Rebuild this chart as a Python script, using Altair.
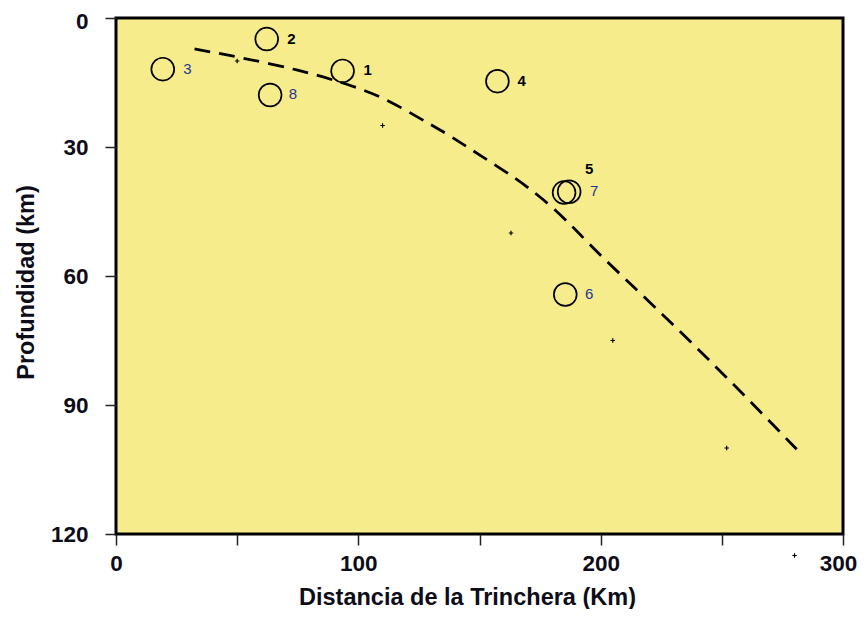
import altair as alt
import pandas as pd

# Earthquake hypocentres (circles)
ev_id = ["1", "2", "3", "4", "5", "6", "7", "8"]
ev_x = [93.5, 62.2, 19.3, 157.4, 187.0, 185.4, 184.9, 63.6]
ev_y = [12.3, 4.9, 11.9, 14.7, 40.4, 64.3, 40.6, 17.9]

# Label anchor positions (data units) and style group
lab_x = [103.9, 72.4, 29.5, 167.4, 195.3, 195.3, 197.3, 73.0]
lab_y = [12.2, 4.9, 11.9, 14.7, 35.0, 64.2, 40.3, 17.6]
lab_grp = ["a", "a", "b", "a", "a", "b", "b", "b"]

# Small cross markers
cr_x = [50, 110, 163, 205, 252, 280]
cr_y = [10, 25, 50, 75, 100, 125]

# Dashed slab line
ln_x = [32.4, 50.9, 75.7, 93.5, 110.0, 125.2, 136.2, 145.8, 155.4, 165.0, 173.3,
        181.5, 189.8, 199.4, 220.0, 240.6, 261.2, 281.9]
ln_y = [7.2, 9.1, 12.1, 15.0, 18.3, 23.3, 26.8, 30.3, 33.8, 37.3, 40.8,
        44.7, 49.3, 55.0, 65.9, 77.2, 88.8, 100.9]

x_ticks = [0, 50, 100, 150, 200, 250, 300]
y_ticks = [0, 30, 60, 90, 120]

df_ev = pd.DataFrame({"x": ev_x, "y": ev_y, "id": ev_id})
df_lab = pd.DataFrame({"x": lab_x, "y": lab_y, "id": ev_id, "g": lab_grp})
df_cr = pd.DataFrame({"x": cr_x, "y": cr_y})
df_ln = pd.DataFrame({"x": ln_x, "y": ln_y, "o": list(range(len(ln_x)))})

FONT = "Liberation Sans"
TXT = "#0d0d1a"

x_axis = alt.Axis(
    values=x_ticks, labelExpr="datum.value % 100 == 0 ? datum.label : ''",
    title="Distancia de la Trinchera (Km)", grid=False, domain=False,
    tickSize=11, tickWidth=1.5, tickColor="#222", labelPadding=7,
    labelFlush=False,
    labelOffset={"condition": {"test": "datum.value == 300", "value": -5}, "value": 0},
    labelFont=FONT, labelFontSize=22.5, labelFontWeight="bold", labelColor=TXT,
    titleFont=FONT, titleFontSize=23.5, titleFontWeight="bold", titleColor=TXT,
    titleX=351, titleY=70, titleBaseline="alphabetic", titleAlign="center",
)
y_axis = alt.Axis(
    values=y_ticks, title="Profundidad (km)", grid=False, domain=False,
    tickSize=11, tickWidth=1.5, tickColor="#222", labelPadding=17,
    labelFlush=False,
    labelOffset={"condition": {"test": "datum.value == 0", "value": 3}, "value": 0},
    labelFont=FONT, labelFontSize=22.5, labelFontWeight="bold", labelColor=TXT,
    titleFont=FONT, titleFontSize=23.5, titleFontWeight="bold", titleColor=TXT,
    titleX=-83, titleY=264, titleBaseline="alphabetic", titleAlign="center", titleAngle=-90,
)

xs = alt.Scale(domain=[0, 300], nice=False, zero=False)
ys = alt.Scale(domain=[0, 120], nice=False, zero=False, reverse=True)


def X():
    return alt.X("x:Q", scale=xs, axis=x_axis)


def Y():
    return alt.Y("y:Q", scale=ys, axis=y_axis)


line = alt.Chart(df_ln).mark_line(
    color="black", strokeWidth=2.8, strokeDash=[16, 9], interpolate="basis"
).encode(x=X(), y=Y(), order="o:Q")

crosses = alt.Chart(df_cr).mark_point(
    shape="M -1 0 L 1 0 M 0 -1 L 0 1", size=20, color="black", strokeWidth=1.2,
    filled=False, opacity=1, clip=False
).encode(x=X(), y=Y())

circles = alt.Chart(df_ev).mark_point(
    shape="circle", size=520, filled=False, color="black", strokeWidth=1.7, opacity=1
).encode(x=X(), y=Y())

labels_a = alt.Chart(df_lab).transform_filter(alt.datum.g == "a").mark_text(
    font=FONT, fontSize=15, fontWeight="bold", color="black", align="center", baseline="middle"
).encode(x=X(), y=Y(), text="id:N")

labels_b = alt.Chart(df_lab).transform_filter(alt.datum.g == "b").mark_text(
    font=FONT, fontSize=15, fontWeight="normal", color="#24349a", align="center", baseline="middle"
).encode(x=X(), y=Y(), text="id:N")

chart = alt.layer(line, crosses, circles, labels_a, labels_b).properties(
    width=727, height=516, autosize="none",
    padding={"left": 108, "top": 10, "right": 14, "bottom": 75},
    background="white",
).configure_view(
    fill="#F6EC8C", stroke="black", strokeWidth=3
)

chart.save("out.html", embed_options={"renderer": "svg", "actions": False})
